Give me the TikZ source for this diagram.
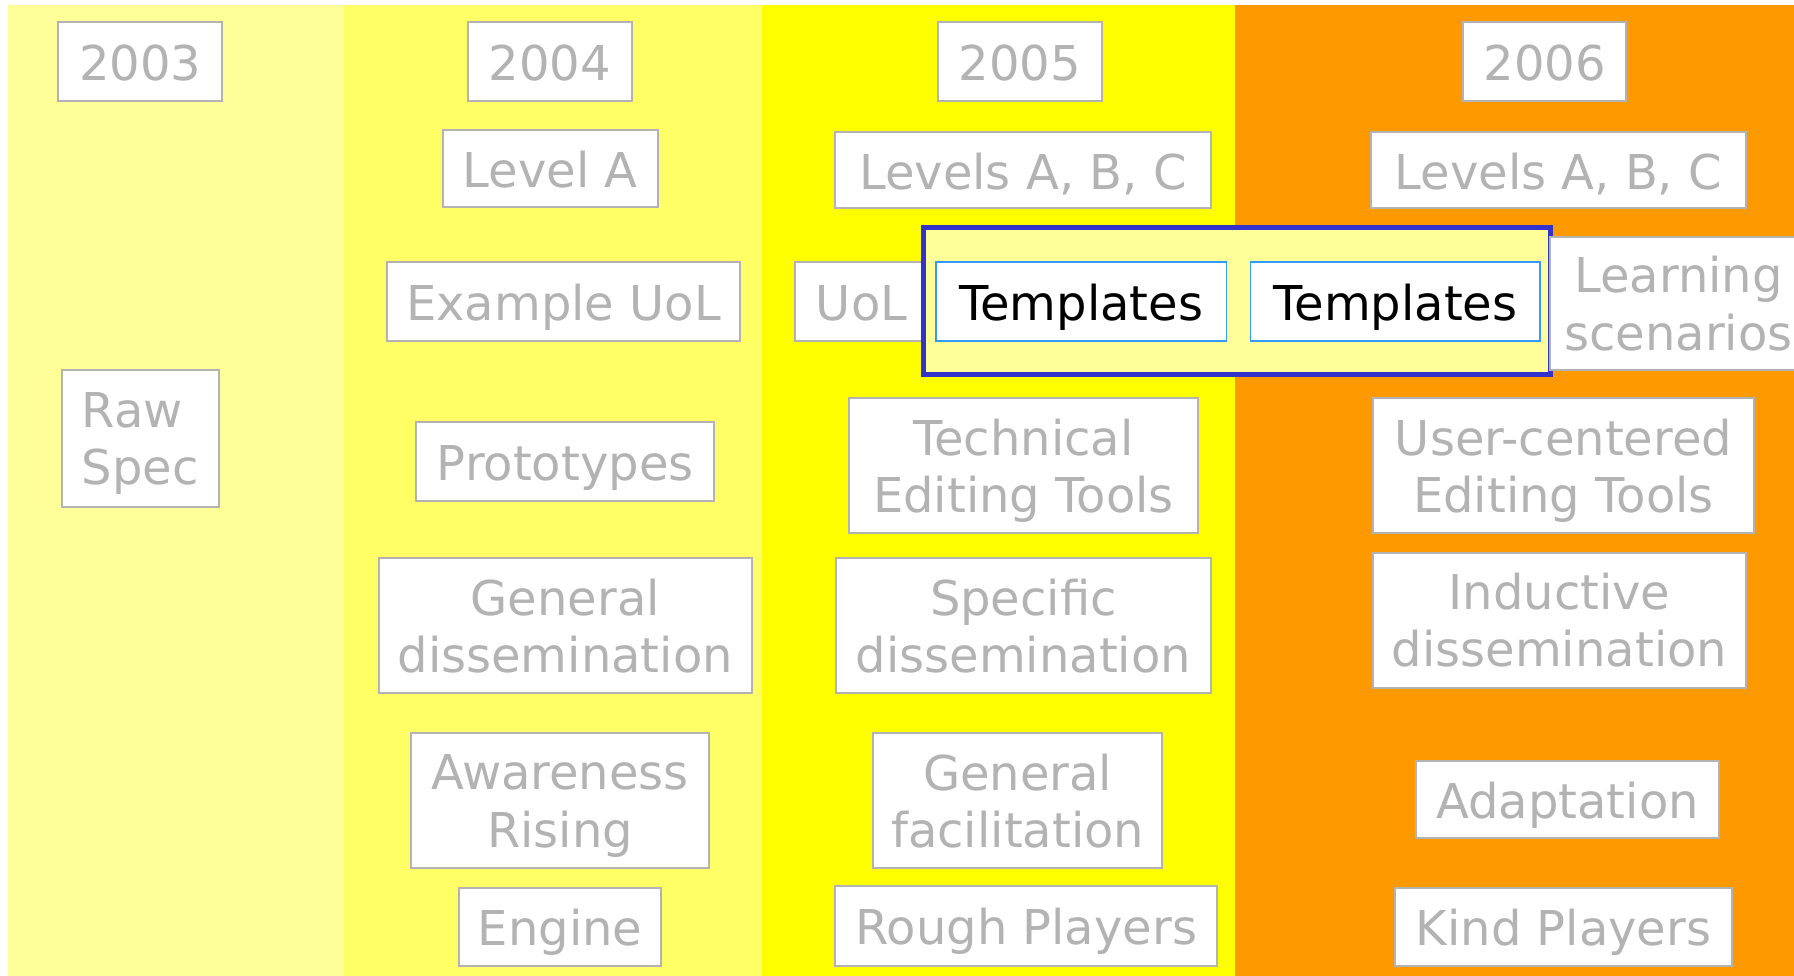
\documentclass[tikz,border=0pt]{standalone}
\usepackage{fontspec}
\setmainfont{DejaVu Sans}
\usepackage{tikz}

\definecolor{bandA}{HTML}{FFFF99}
\definecolor{bandB}{HTML}{FFFF66}
\definecolor{bandC}{HTML}{FFFF00}
\definecolor{bandD}{HTML}{FF9900}
\definecolor{fade}{HTML}{B3B3B3}
\definecolor{frameblue}{HTML}{3333CC}
\definecolor{tplblue}{HTML}{3399FF}

\begin{document}
\begin{tikzpicture}[x=0.572pt,y=-0.572pt,
    sz/.style 2 args={minimum width=#1*0.572pt, minimum height=#2*0.572pt},
    cell/.style={draw=fade, fill=white, line width=1pt, text=fade, inner sep=0pt,
        align=center, font=\fontsize{24}{28.6}\selectfont},
    one/.style={cell, text height=25pt, text depth=5.8pt},
    two/.style={cell, text depth=-4.5pt},
    tpl/.style={one, draw=tplblue, line width=0.8pt, text=black}]
    \useasboundingbox (0,0) rectangle (1568,853);
    \clip (0,0) rectangle (1568,853);
        \fill[white] (0,0) rectangle (1568,853);
        \fill[bandA] (7,4.4) rectangle (301,853);
        \fill[bandB] (301,4.4) rectangle (666,853);
        \fill[bandC] (666,4.4) rectangle (1079,853);
        \fill[bandD] (1079,4.4) rectangle (1568,853);

        \node[one, sz={143}{69}] (y2003) at (122.5,53.5) {2003};
        \node[one, sz={143}{69}] (y2004) at (480.5,53.5) {2004};
        \node[one, sz={143}{69}] (y2005) at (891.5,53.5) {2005};
        \node[one, sz={142}{69}] (y2006) at (1350,53.5) {2006};

        \node[one, sz={188}{67}] (levelA) at (481,147.5) {Level A};
        \node[one, sz={328}{67}] (levels05) at (894,148.5) {Levels A, B, C};
        \node[one, sz={328}{67}] (levels06) at (1362,148.5) {Levels A, B, C};

        \node[one, sz={309}{69}] (exuol) at (492.5,263.5) {Example UoL};
        \node[one, sz={116}{69}] (uol) at (753,263.5) {UoL};
        \node[draw=frameblue, fill=bandA, line width=2.4pt, inner sep=0pt, sz={548}{128}] (tplframe) at (1081,263) {};
        \node[tpl, sz={254}{69}] (tpl05) at (945,263.5) {Templates};
        \node[tpl, sz={253}{69}] (tpl06) at (1219.5,263.5) {Templates};
        \node[two, sz={224}{116}] (learn) at (1467,265) {Learning\\scenarios};

        \node[two, align=left, sz={137}{120}] (rawspec) at (122.5,383) {Raw\\Spec};
        \node[one, sz={260}{69}] (proto) at (494,403.5) {Prototypes};
        \node[two, sz={305}{118}] (techedit) at (894.5,407) {Technical\\Editing Tools};
        \node[two, sz={333}{118}] (useredit) at (1366.5,407) {User-centered\\Editing Tools};

        \node[two, sz={326}{118}] (gendiss) at (494,547) {General\\dissemination};
        \node[two, sz={327}{118}] (specdiss) at (894.5,547) {Specific\\dissemination};
        \node[two, sz={326}{118}] (inddiss) at (1363,542) {Inductive\\dissemination};

        \node[two, sz={261}{118}] (aware) at (489.5,700) {Awareness\\Rising};
        \node[two, sz={253}{118}] (genfac) at (889.5,700) {General\\facilitation};
        \node[one, sz={264}{67}] (adapt) at (1370,698.5) {Adaptation};

        \node[one, sz={177}{68}] (engine) at (489.5,810) {Engine};
        \node[one, sz={334}{70}] (rough) at (897,809) {Rough Players};
        \node[one, sz={295}{68}] (kind) at (1366.5,810) {Kind Players};
    \end{tikzpicture}
\end{document}
